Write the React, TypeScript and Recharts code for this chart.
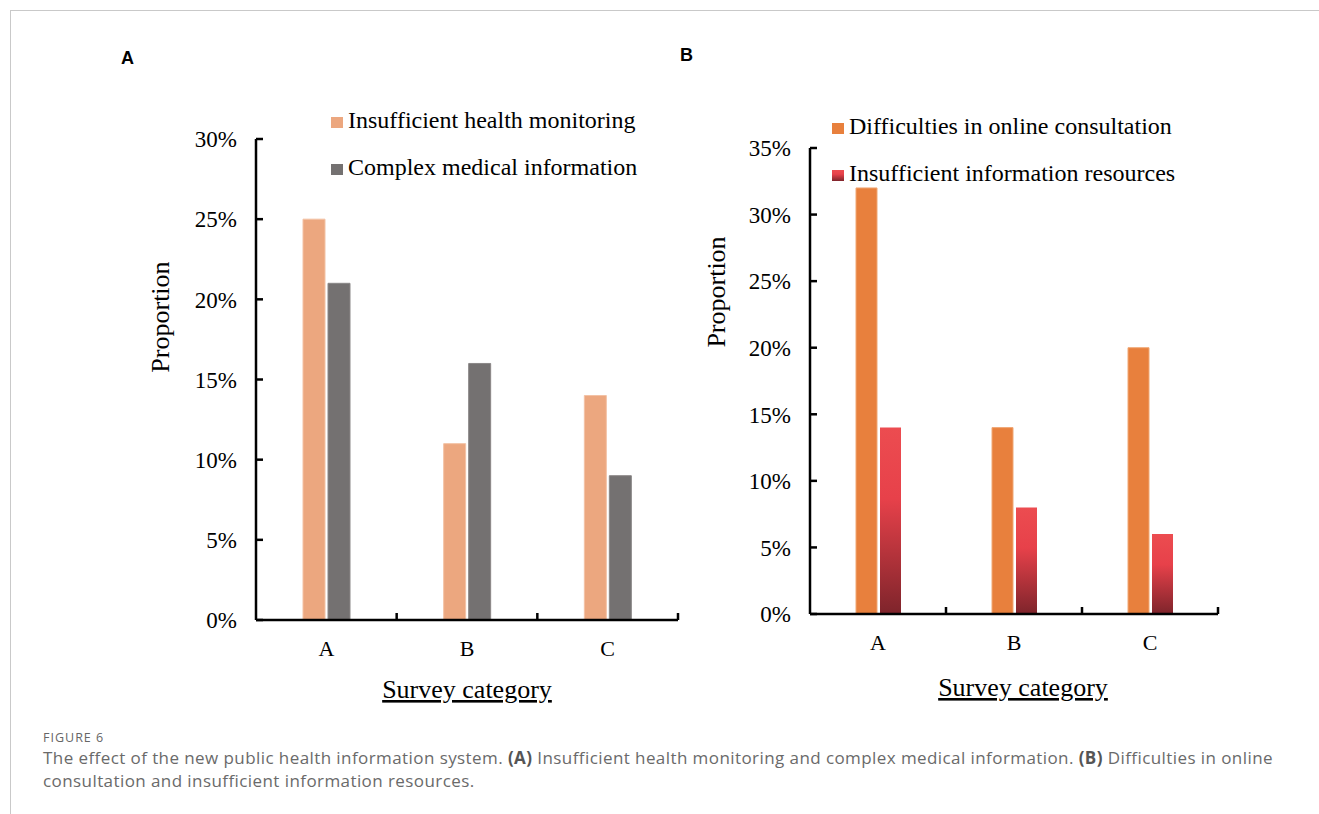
import React from 'react';
import { BarChart, Bar, XAxis, YAxis, Legend, Label } from 'recharts';

const categories = ['A', 'B', 'C'];
const healthMonitoring = [25, 11, 14];
const complexInfo = [21, 16, 9];
const onlineConsult = [32, 14, 20];
const infoResources = [14, 8, 6];
const ticksA = [0, 5, 10, 15, 20, 25, 30];
const ticksB = [0, 5, 10, 15, 20, 25, 30, 35];

const dataA = categories.map((c, i) => ({ cat: c, health: healthMonitoring[i], complex: complexInfo[i] }));
const dataB = categories.map((c, i) => ({ cat: c, online: onlineConsult[i], resources: infoResources[i] }));

const SERIF = "'Liberation Serif', 'Times New Roman', serif";
const AXIS_W = 2.5;

const makeXTick = (halfBand: number) => (props: any) => {
  const { x, y, payload } = props;
  const off = payload && typeof payload.offset === 'number' && payload.offset > 0 ? payload.offset : halfBand;
  return (
    <g>
      <line x1={x + off} x2={x + off} y1={y} y2={y - 7} stroke="#000" strokeWidth={AXIS_W} />
      <text x={x} y={y + 36} textAnchor="middle" fontFamily={SERIF} fontSize={22} fill="#000">
        {payload.value}
      </text>
    </g>
  );
};

const YTick = (props: any) => {
  const { x, y, payload } = props;
  return (
    <g>
      <line x1={x} x2={x + 7} y1={y} y2={y} stroke="#000" strokeWidth={AXIS_W} />
      <text x={x - 19} y={y} dy="0.36em" textAnchor="end" fontFamily={SERIF} fontSize={23} fill="#000">
        {payload.value}%
      </text>
    </g>
  );
};

const makeLegend = (items: { name: string; fill: string }[]) => () => (
  <div style={{ fontFamily: SERIF, fontSize: 24, color: '#000' }}>
    {items.map((it) => (
      <div key={it.name} style={{ height: 47, display: 'flex', alignItems: 'center', whiteSpace: 'nowrap' }}>
        <svg width={12} height={11} style={{ marginRight: 5, marginTop: 4, flex: 'none' }}>
          <rect x={0} y={0} width={12} height={11} fill={it.fill} />
        </svg>
        <span>{it.name}</span>
      </div>
    ))}
  </div>
);

const TitleText = ({ x, y, children, rotate }: any) => (
  <text
    x={x}
    y={y}
    textAnchor="middle"
    dominantBaseline={rotate ? 'central' : undefined}
    transform={rotate ? `rotate(-90 ${x} ${y})` : undefined}
    fontFamily={SERIF}
    fontSize={26}
    fill="#000"
    style={rotate ? undefined : { textDecoration: 'underline' }}
  >
    {children}
  </text>
);

const legendWrap = (left: number, top: number, width: number) => ({
  position: 'absolute' as const,
  left,
  top,
  width,
  height: 0,
  overflow: 'visible' as const,
});

export default function App() {
  return (
    <div style={{ position: 'absolute', left: 0, top: 0, width: 1319, height: 814, background: '#fff', overflow: 'hidden' }}>
      {/* frame */}
      <div style={{ position: 'absolute', left: 10, top: 10, width: 1309, height: 0, borderTop: '1.5px solid #c9c9c9' }} />
      <div style={{ position: 'absolute', left: 10, top: 10, width: 0, height: 804, borderLeft: '1.5px solid #c9c9c9' }} />

      <div style={{ position: 'absolute', left: 121, top: 48, fontFamily: "'Liberation Sans', Arial, sans-serif", fontWeight: 700, fontSize: 18 }}>A</div>
      <div style={{ position: 'absolute', left: 680, top: 45, fontFamily: "'Liberation Sans', Arial, sans-serif", fontWeight: 700, fontSize: 18 }}>B</div>

      <div style={{ position: 'absolute', left: 0, top: 0 }}>
        <BarChart width={700} height={720} data={dataA} margin={{ top: 139, right: 22, left: 0, bottom: 0 }} barSize={22} barGap={3}>
          <XAxis
            dataKey="cat"
            height={100}
            interval={0}
            tickSize={0}
            tickMargin={0}
            tickLine={false}
            tick={makeXTick(70.3)}
            axisLine={{ stroke: '#000', strokeWidth: AXIS_W }}
          >
            <Label content={() => <TitleText x={467} y={698}>Survey category</TitleText>} />
          </XAxis>
          <YAxis
            width={256}
            domain={[0, 30]}
            ticks={ticksA}
            interval={0}
            tickSize={0}
            tickMargin={0}
            tickLine={false}
            tick={YTick}
            axisLine={{ stroke: '#000', strokeWidth: AXIS_W }}
          >
            <Label content={() => <TitleText x={160} y={317} rotate>Proportion</TitleText>} />
          </YAxis>
          <Legend
            content={makeLegend([
              { name: 'Insufficient health monitoring', fill: '#ECA77F' },
              { name: 'Complex medical information', fill: '#747171' },
            ])}
            wrapperStyle={legendWrap(331, 97, 340)}
          />
          <Bar dataKey="health" name="Insufficient health monitoring" fill="#ECA77F" stroke="#F3C2A5" strokeWidth={1} isAnimationActive={false} />
          <Bar dataKey="complex" name="Complex medical information" fill="#747171" stroke="#8A8787" strokeWidth={1} isAnimationActive={false} />
        </BarChart>
      </div>

      <div style={{ position: 'absolute', left: 700, top: 0 }}>
        <BarChart width={540} height={720} data={dataB} margin={{ top: 148, right: 22, left: 0, bottom: 0 }} barSize={21} barGap={3}>
          <defs>
            <linearGradient id="redGrad" x1="0" y1="0" x2="0" y2="1">
              <stop offset="0" stopColor="#EC4C50" />
              <stop offset="0.38" stopColor="#E7414A" />
              <stop offset="1" stopColor="#7E242B" />
            </linearGradient>
          </defs>
          <XAxis
            dataKey="cat"
            height={106}
            interval={0}
            tickSize={0}
            tickMargin={0}
            tickLine={false}
            tick={makeXTick(68)}
            axisLine={{ stroke: '#000', strokeWidth: AXIS_W }}
          >
            <Label content={() => <TitleText x={323} y={696}>Survey category</TitleText>} />
          </XAxis>
          <YAxis
            width={110}
            domain={[0, 35]}
            ticks={ticksB}
            interval={0}
            tickSize={0}
            tickMargin={0}
            tickLine={false}
            tick={YTick}
            axisLine={{ stroke: '#000', strokeWidth: AXIS_W }}
          >
            <Label content={() => <TitleText x={16} y={292} rotate>Proportion</TitleText>} />
          </YAxis>
          <Legend
            content={makeLegend([
              { name: 'Difficulties in online consultation', fill: '#E8803D' },
              { name: 'Insufficient information resources', fill: 'url(#redGrad)' },
            ])}
            wrapperStyle={legendWrap(132, 103, 360)}
          />
          <Bar dataKey="online" name="Difficulties in online consultation" fill="#E8803D" stroke="#F0A775" strokeWidth={1} isAnimationActive={false} />
          <Bar dataKey="resources" name="Insufficient information resources" fill="url(#redGrad)" isAnimationActive={false} />
        </BarChart>
      </div>

      <div style={{ position: 'absolute', left: 43, top: 729, fontFamily: "'Open Sans', sans-serif", fontSize: 12.5, color: '#666', letterSpacing: 1 }}>FIGURE 6</div>
      <div style={{ position: 'absolute', left: 43, top: 746, fontFamily: "'Open Sans', sans-serif", fontSize: 17, lineHeight: '23px', color: '#6a6a6a', whiteSpace: 'nowrap', letterSpacing: 0.42 }}>
        The effect of the new public health information system. <b style={{ color: '#555' }}>(A)</b> Insufficient health monitoring and complex medical information. <b style={{ color: '#555' }}>(B)</b> Difficulties in online
        <br />
        consultation and insufficient information resources.
      </div>
    </div>
  );
}
